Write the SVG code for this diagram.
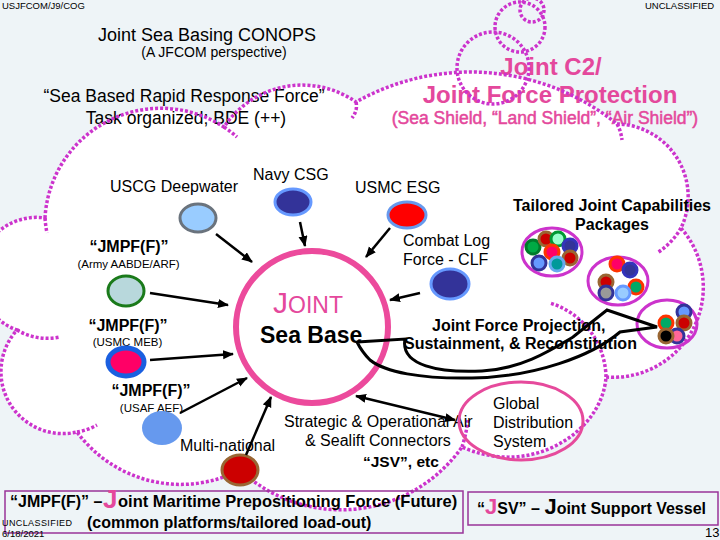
<svg xmlns="http://www.w3.org/2000/svg" width="720" height="540" viewBox="0 0 720 540">
<defs>
<style>
text{font-family:"Liberation Sans",Arial,sans-serif;fill:#000}
.b{font-weight:bold}
.pk{fill:#E4489C}
.dot{fill:none;stroke:#CC33CC;stroke-width:3.5;stroke-dasharray:3 2}
.ar{stroke:#000;stroke-width:2.5;fill:none;marker-end:url(#ah)}
.pkg{fill:none;stroke:#CC33CC;stroke-width:3}
.c{stroke-width:3}
</style>
<marker id="ah" markerUnits="userSpaceOnUse" markerWidth="12" markerHeight="10" refX="10" refY="4.5" orient="auto-start-reverse">
<path d="M0,0 L11,4.5 L0,9 z" fill="#000"/>
</marker>
</defs>
<rect width="720" height="540" fill="#EEF4F7"/>
<!-- cloud fill -->
<path id="cloudshape" d="M45,218 A116,116 0 0 1 224,127 A94,94 0 0 1 356,102 A233,233 0 0 1 617,124 A72.6,72.6 0 0 1 681,228 A90,90 0 0 1 606,377 C603,420 560,455 513,457 C495,458 475,453 462,447 A148,148 0 0 1 240,470 A129,129 0 0 1 77,432 A62,62 0 0 1 17,330 A58,58 0 0 1 45,218 Z" fill="#FFFFFF"/>
<!-- texts -->
<text x="2" y="9" font-size="9.5">USJFCOM/J9/COG</text>
<text x="645" y="9" font-size="9.5">UNCLASSIFIED</text>
<text x="207" y="41" font-size="18" text-anchor="middle">Joint Sea Basing CONOPS</text>
<text x="214" y="57" font-size="14" text-anchor="middle">(A JFCOM perspective)</text>
<text x="184" y="102" font-size="17.5" text-anchor="middle">“Sea Based Rapid Response Force”</text>
<text x="186" y="124" font-size="17.5" text-anchor="middle">Task organized; BDE (++)</text>
<text x="551" y="75" font-size="24" class="b pk" text-anchor="middle">Joint C2/</text>
<text x="550" y="103" font-size="24" class="b pk" text-anchor="middle">Joint Force Protection</text>
<text x="545" y="124" font-size="17.5" class="pk" text-anchor="middle" stroke="#E4489C" stroke-width="0.5">(Sea Shield, “Land Shield”, “Air Shield”)</text>
<!-- cloud outline -->
<g id="cloud">
<path class="dot" d="M45,218 A116,116 0 0 1 224,127 A94,94 0 0 1 356,102 A233,233 0 0 1 617,124 A72.6,72.6 0 0 1 681,228 A90,90 0 0 1 606,377 C603,420 560,455 513,457 C495,458 475,453 462,447 A148,148 0 0 1 240,470 A129,129 0 0 1 77,432 A62,62 0 0 1 17,330 A58,58 0 0 1 45,218 Z"/>
<path class="dot" d="M45,218 A116,116 0 0 0 47,233"/>
<path class="dot" d="M224,127 A116,116 0 0 1 237,137"/>
<path class="dot" d="M356,102 Q358,110 352,118"/>
<path class="dot" d="M617,124 Q621,131 622,140"/>
<path class="dot" d="M681,228 A72.6,72.6 0 0 1 657,253"/>
<path class="dot" d="M606,377 A79,79 0 0 0 550,303"/>
<path class="dot" d="M462,447 Q466,435 468,420"/>
<path class="dot" d="M77,432 A62,62 0 0 0 97,425"/>
<path class="dot" d="M17,330 A60,60 0 0 0 60,337"/>
<circle class="dot" cx="493" cy="68" r="36"/>
<circle class="dot" cx="520" cy="27" r="25"/>
<circle class="dot" cx="532" cy="10" r="12"/>
</g>
<!-- labels -->
<text x="110" y="192" font-size="16">USCG Deepwater</text>
<text x="253" y="180" font-size="16">Navy CSG</text>
<text x="355" y="193" font-size="16">USMC ESG</text>
<text x="612" y="211" font-size="16" class="b" text-anchor="middle">Tailored Joint Capabilities</text>
<text x="612" y="230" font-size="16" class="b" text-anchor="middle">Packages</text>
<text x="403" y="246" font-size="16">Combat Log</text>
<text x="403" y="265" font-size="16">Force - CLF</text>
<text x="129" y="252" font-size="16" class="b" text-anchor="middle">“JMPF(F)”</text>
<text x="128.5" y="268" font-size="11.5" text-anchor="middle">(Army AABDE/ARF)</text>
<text x="128" y="331" font-size="16" class="b" text-anchor="middle">“JMPF(F)”</text>
<text x="127.5" y="346" font-size="11.5" text-anchor="middle">(USMC MEB)</text>
<text x="151" y="396" font-size="16" class="b" text-anchor="middle">“JMPF(F)”</text>
<text x="151.5" y="412" font-size="11.5" text-anchor="middle">(USAF AEF)</text>
<text x="180" y="451" font-size="16">Multi-national</text>
<text x="284" y="427" font-size="16">Strategic &amp; Operational Air</text>
<text x="305" y="446" font-size="16">&amp; Sealift Connectors</text>
<text x="363" y="467" font-size="15.5" class="b">“JSV”, etc</text>
<text x="432" y="331" font-size="16" class="b">Joint Force Projection,</text>
<text x="404" y="349" font-size="16" class="b">Sustainment, &amp; Reconstitution</text>
<!-- Sea base -->
<g id="seabase">
<circle cx="312" cy="327" r="76" fill="none" stroke="#EC4A9C" stroke-width="6"/>
<text x="273" y="313" class="pk"><tspan font-size="30">J</tspan><tspan font-size="23">OINT</tspan></text>
<text x="260" y="343" font-size="23" class="b">Sea Base</text>
</g>
<g id="gds">
<ellipse cx="521" cy="421" rx="62" ry="39" fill="none" stroke="#E64A9C" stroke-width="3"/>
<text x="493" y="409" font-size="16">Global</text>
<text x="493" y="428" font-size="16">Distribution</text>
<text x="493" y="447" font-size="16">System</text>
</g>
<!-- nodes -->
<g id="uscg"><ellipse cx="198" cy="218" rx="18" ry="14" fill="#99CCFF" stroke="#6A737D" stroke-width="3"/></g>
<g id="navy"><ellipse cx="293" cy="202" rx="18" ry="13" fill="#333399" stroke="#6699FF" stroke-width="3"/></g>
<g id="esg"><ellipse cx="407" cy="215" rx="19" ry="13" fill="#FF0000" stroke="#6699EE" stroke-width="3"/></g>
<g id="clf"><ellipse cx="450" cy="284" rx="19" ry="15" fill="#333399" stroke="#6699FF" stroke-width="3"/></g>
<g id="army"><ellipse cx="126" cy="291" rx="18" ry="15" fill="#B8D8DC" stroke="#1A7A1A" stroke-width="3"/></g>
<g id="meb"><ellipse cx="126" cy="362" rx="18" ry="14" fill="#FF0066" stroke="#1A5FE0" stroke-width="5"/></g>
<g id="aef"><ellipse cx="162" cy="428" rx="20" ry="17" fill="#6699EE"/></g>
<g id="multi"><ellipse cx="240" cy="470" rx="18" ry="15" fill="#CC0000" stroke="#996633" stroke-width="3"/></g>
<!-- packages -->
<g id="pkg1">
<ellipse class="pkg" cx="552" cy="252" rx="30" ry="24"/>
<circle class="c" cx="533" cy="247" r="7" fill="#00AA44" stroke="#007A2A"/>
<circle class="c" cx="546" cy="239" r="7" fill="#CC0000" stroke="#996633"/>
<circle class="c" cx="558" cy="239" r="7" fill="#99FFCC" stroke="#009933"/>
<circle class="c" cx="570" cy="246" r="7" fill="#333399" stroke="#3333BB"/>
<circle class="c" cx="552" cy="252" r="7" fill="#FF0066" stroke="#FF3300"/>
<circle class="c" cx="570" cy="258" r="7" fill="#CC0000" stroke="#996633"/>
<circle class="c" cx="539" cy="263" r="7" fill="#6699FF" stroke="#333399"/>
<circle class="c" cx="557" cy="264" r="7" fill="#009999" stroke="#66AAEE"/>
</g>
<g id="pkg2">
<ellipse class="pkg" cx="618" cy="281" rx="30" ry="24"/>
<circle class="c" cx="617" cy="264" r="7" fill="#FF0066" stroke="#FF3300"/>
<circle class="c" cx="630" cy="270" r="7" fill="#333399" stroke="#3333BB"/>
<circle class="c" cx="606" cy="282" r="7" fill="#CC0000" stroke="#996633"/>
<circle class="c" cx="636" cy="287" r="7" fill="#00AA66" stroke="#FF3300"/>
<circle class="c" cx="606" cy="293" r="7" fill="#999999" stroke="#333399"/>
<circle class="c" cx="623" cy="293" r="7" fill="#99CCFF" stroke="#6699FF"/>
</g>
<g id="pkg3">
<ellipse class="pkg" cx="667" cy="324" rx="30" ry="24"/>
<circle class="c" cx="684" cy="312" r="7" fill="#6699FF" stroke="#333399"/>
<circle class="c" cx="666" cy="323" r="7" fill="#00AA66" stroke="#FF3300"/>
<circle class="c" cx="684" cy="323" r="7" fill="#CC0000" stroke="#996633"/>
<circle class="c" cx="677" cy="336" r="7" fill="#FF6699" stroke="#333399"/>
<circle class="c" cx="666" cy="336" r="7" fill="#000000" stroke="#996633"/>
</g>
<!-- connectors -->
<g id="connectors">
<line class="ar" x1="216" y1="234" x2="252" y2="262"/>
<line class="ar" x1="300" y1="222" x2="305" y2="246"/>
<line class="ar" x1="390" y1="228" x2="366" y2="257"/>
<line class="ar" x1="420" y1="293" x2="390" y2="300"/>
<line class="ar" x1="150" y1="293" x2="228" y2="305"/>
<line class="ar" x1="150" y1="360" x2="233" y2="354"/>
<line class="ar" x1="180" y1="413" x2="247" y2="378"/>
<line class="ar" x1="246" y1="455" x2="271" y2="397"/>
<line class="ar" x1="356" y1="396" x2="455" y2="420" marker-start="url(#ah)"/>
<path d="M357,342 L405,339 C400,366 440,373 482,371 C520,369 548,352 573,337 L607,310 L657,327 L620,332 C592,356 535,377 472,378 C420,379 385,372 370,360 C364,354 360,348 357,342" fill="none" stroke="#000" stroke-width="3"/>
</g>
<!-- bottom boxes -->
<g id="box1">
<rect x="5" y="491" width="458" height="42" fill="none" stroke="#993399" stroke-width="1.5"/>
<text x="10" y="507" font-size="16" class="b">“JMPF(F)” –</text>
<text x="103" y="508" font-size="26" class="b pk">J</text>
<text x="118" y="507" font-size="16.5" class="b">oint Maritime Prepositioning Force (Future)</text>
<text x="87" y="528" font-size="16" class="b">(common platforms/tailored load-out)</text>
</g>
<text x="2" y="526" font-size="9" textLength="70">UNCLASSIFIED</text>
<text x="2" y="537" font-size="9.5">6/18/2021</text>
<g id="box2">
<rect x="468" y="492" width="250" height="33" fill="none" stroke="#993399" stroke-width="1.5"/>
<text x="477" y="514" font-size="16" class="b">“<tspan font-size="22" class="pk">J</tspan>SV” – <tspan font-size="22">J</tspan>oint Support Vessel</text>
</g>
<text x="705" y="537" font-size="13">13</text>
</svg>
